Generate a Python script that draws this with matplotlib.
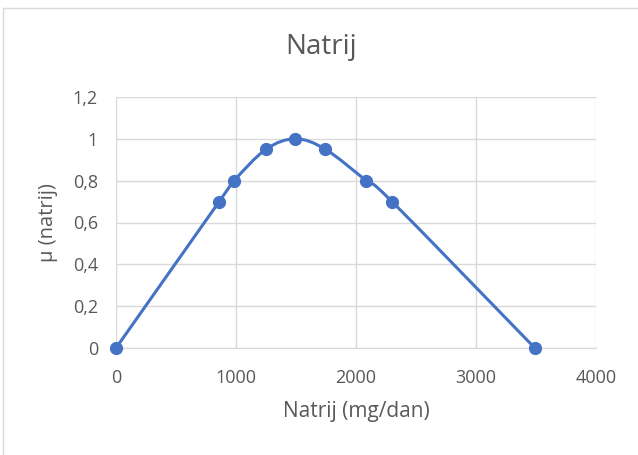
import matplotlib.pyplot as plt
from matplotlib.path import Path
from matplotlib.patches import PathPatch, Rectangle

# data
natrij_mg = [0, 860, 985, 1250, 1495, 1745, 2085, 2300, 3490]
mu = [0, 0.7, 0.8, 0.95, 1.0, 0.95, 0.8, 0.7, 0]
x_ticks = [0, 1000, 2000, 3000, 4000]
y_ticks = [0, 0.2, 0.4, 0.6, 0.8, 1.0, 1.2]
y_labels = ["0", "0,2", "0,4", "0,6", "0,8", "1", "1,2"]

blue = "#4472C4"
grey_txt = "#595959"
grid_c = "#d9d9d9"
plt.rcParams["font.family"] = ["Open Sans", "DejaVu Sans"]

W, H = 638, 455
fig = plt.figure(figsize=(W / 100, H / 100), dpi=100)
left, right, top, bottom = 116, 596, 97, 348
ax = fig.add_axes([left / W, 1 - bottom / H, (right - left) / W, (bottom - top) / H])

# Excel-like smoothed line: Bezier segments with Catmull-Rom tangents
verts = [(natrij_mg[0], mu[0])]
codes = [Path.MOVETO]
n = len(natrij_mg)
for i in range(n - 1):
    p0 = (natrij_mg[max(i - 1, 0)], mu[max(i - 1, 0)])
    p1 = (natrij_mg[i], mu[i])
    p2 = (natrij_mg[i + 1], mu[i + 1])
    p3 = (natrij_mg[min(i + 2, n - 1)], mu[min(i + 2, n - 1)])
    c1 = (p1[0] + (p2[0] - p0[0]) / 6, p1[1] + (p2[1] - p0[1]) / 6)
    c2 = (p2[0] - (p3[0] - p1[0]) / 6, p2[1] - (p3[1] - p1[1]) / 6)
    verts += [c1, c2, p2]
    codes += [Path.CURVE4] * 3
ax.add_patch(PathPatch(Path(verts, codes), fill=False, edgecolor=blue,
                       linewidth=2.2, capstyle="round", zorder=3))
ax.plot(natrij_mg, mu, "o", color=blue, markersize=8.5, zorder=4, clip_on=False)

ax.set_xlim(0, 4000)
ax.set_ylim(0, 1.2)
ax.set_xticks(x_ticks)
ax.set_yticks(y_ticks)
ax.set_yticklabels(y_labels)
ax.grid(True, color=grid_c, linewidth=1)
ax.set_axisbelow(True)
for side in ["left", "top", "right"]:
    ax.spines[side].set_visible(False)
ax.spines["bottom"].set_color(grid_c)
ax.tick_params(length=0, labelsize=13, labelcolor=grey_txt)
ax.tick_params(axis="y", pad=13)
ax.tick_params(axis="x", pad=15)

ax.set_xlabel("Natrij (mg/dan)", fontsize=15, color=grey_txt, va="center")
ax.xaxis.set_label_coords(0.5, (bottom - 412) / (bottom - top))
ax.set_ylabel("µ (natrij)", fontsize=14.5, color=grey_txt, va="center")
ax.yaxis.set_label_coords((48 - left) / (right - left), 0.5)
fig.text(321 / W, 1 - 47 / H, "Natrij", fontsize=20, color=grey_txt,
         ha="center", va="center")

# chart border (cropped at right and bottom)
fig.patches.append(Rectangle((3 / W, -0.1), 1.1, 1 - 8 / H + 0.1,
                             transform=fig.transFigure, fill=False,
                             edgecolor=grid_c, linewidth=1))

fig.savefig("out.png", dpi=100)
